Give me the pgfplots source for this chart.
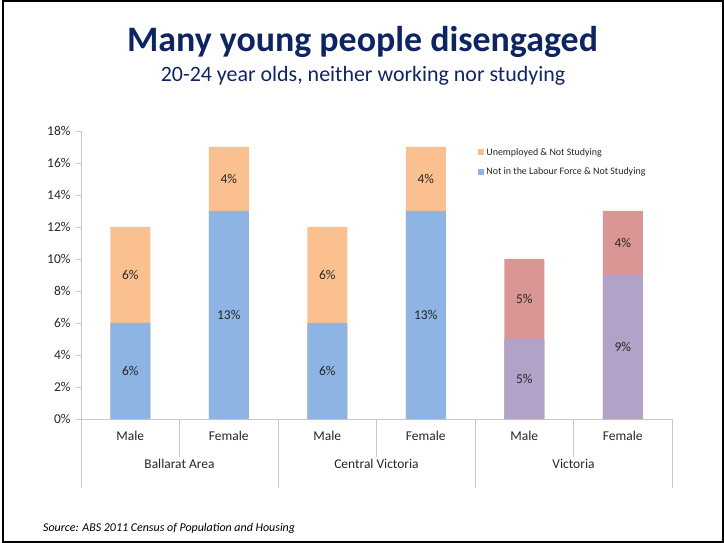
\documentclass[border=0pt]{standalone}
\usepackage{pgfplots}
\pgfplotsset{compat=1.18}
\usepackage{fontspec}
\setmainfont{Carlito}
\definecolor{cblue}{HTML}{8DB4E2}
\definecolor{corange}{HTML}{FAC090}
\definecolor{cpurple}{HTML}{B3A2C7}
\definecolor{cred}{HTML}{D99694}
\definecolor{navy}{HTML}{0F2463}
\definecolor{sepgray}{HTML}{C8C8C8}
\definecolor{txt}{HTML}{262626}
\begin{document}
\begin{tikzpicture}
\useasboundingbox (0,0) rectangle (724bp,543bp);
\draw[line width=2.5bp] (3bp,1bp) rectangle (723bp,542bp);
\node[anchor=base, font=\fontsize{36}{40}\selectfont\bfseries, text=navy, inner sep=0] at (362.5bp,491bp) {Many young people disengaged};
\node[anchor=base, font=\fontsize{22}{26}\selectfont, text=navy, inner sep=0] at (363bp,461bp) {20-24 year olds, neither working nor studying};
\node[anchor=base west, font=\fontsize{12}{14}\selectfont\itshape, inner sep=0] at (43bp,12bp) {Source: ABS 2011 Census of Population and Housing};
\begin{axis}[
  at={(81bp,124bp)}, anchor=south west,
  scale only axis, width=591bp, height=288bp,
  xmin=-0.5, xmax=5.5, ymin=0, ymax=18,
  axis x line*=bottom, axis y line*=left,
  axis line style={sepgray},
  ybar, bar width=40bp, bar shift=0pt,
  xtick={0,1,2,3,4,5},
  xticklabels={Male,Female,Male,Female,Male,Female},
  xtick style={draw=none},
  xticklabel style={font=\fontsize{13.5}{15}\selectfont, text=txt, yshift=-4bp},
  ytick={0,2,...,18},
  yticklabels={0\%,2\%,4\%,6\%,8\%,10\%,12\%,14\%,16\%,18\%},
  yticklabel style={font=\fontsize{13.5}{15}\selectfont, text=txt, xshift=-2bp},
  ytick style={sepgray},
  tick align=outside, major tick length=5bp,
  clip=false,
  legend style={draw=none, fill=none, at={(0.667,0.955)}, anchor=north west,
    font=\fontsize{10}{11}\selectfont, row sep=7bp, text=txt},
  legend cell align=left,
  legend image code/.code={\fill[#1,draw=none] (0bp,-3bp) rectangle (6bp,3bp);},
]
\addplot[fill=corange, draw=none] coordinates {(0,12) (1,17) (2,12) (3,17)};
\addlegendentry{Unemployed \& Not Studying}
\addplot[fill=cred, draw=none, forget plot] coordinates {(4,10) (5,13)};
\addplot[fill=cblue, draw=none] coordinates {(0,6) (1,13) (2,6) (3,13)};
\addlegendentry{Not in the Labour Force \& Not Studying}
\addplot[fill=cpurple, draw=none, forget plot] coordinates {(4,5) (5,9)};
\addplot[sharp plot, draw=none, mark=none, forget plot, nodes near coords,
  point meta=explicit symbolic, nodes near coords align=center,
  every node near coord/.append style={font=\fontsize{13.5}{15}\selectfont, text=txt, anchor=center}]
  coordinates {(0,3) [6\%] (0,9) [6\%] (1,6.5) [13\%] (1,15) [4\%]
               (2,3) [6\%] (2,9) [6\%] (3,6.5) [13\%] (3,15) [4\%]
               (4,2.5) [5\%] (4,7.5) [5\%] (5,4.5) [9\%] (5,11) [4\%]};
\draw[sepgray] (axis cs:0.5,0) -- ([yshift=-38bp]axis cs:0.5,0);
\draw[sepgray] (axis cs:2.5,0) -- ([yshift=-38bp]axis cs:2.5,0);
\draw[sepgray] (axis cs:4.5,0) -- ([yshift=-38bp]axis cs:4.5,0);
\draw[sepgray] (axis cs:-0.5,0) -- ([yshift=-69bp]axis cs:-0.5,0);
\draw[sepgray] (axis cs:1.5,0) -- ([yshift=-69bp]axis cs:1.5,0);
\draw[sepgray] (axis cs:3.5,0) -- ([yshift=-69bp]axis cs:3.5,0);
\draw[sepgray] (axis cs:5.5,0) -- ([yshift=-69bp]axis cs:5.5,0);
\node[font=\fontsize{13.5}{15}\selectfont, text=txt] at ([yshift=-45bp]axis cs:0.5,0) {Ballarat Area};
\node[font=\fontsize{13.5}{15}\selectfont, text=txt] at ([yshift=-45bp]axis cs:2.5,0) {Central Victoria};
\node[font=\fontsize{13.5}{15}\selectfont, text=txt] at ([yshift=-45bp]axis cs:4.5,0) {Victoria};
\end{axis}
\end{tikzpicture}
\end{document}
